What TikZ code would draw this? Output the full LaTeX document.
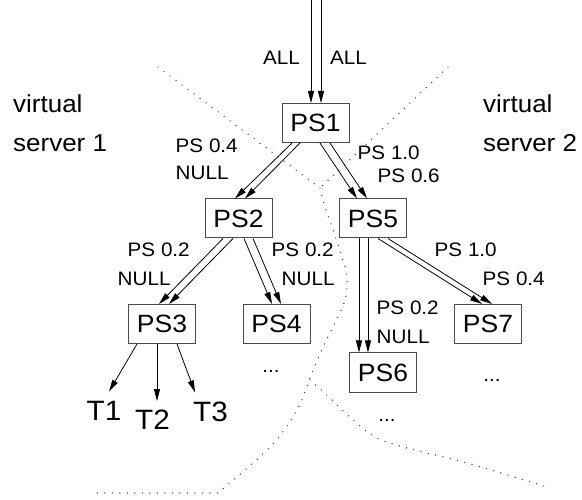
\documentclass[tikz,border=0pt]{standalone}
\usepackage{fontspec}
\setmainfont{Liberation Sans}[FakeStretch=1.06]
\usetikzlibrary{arrows.meta}
\begin{document}
\begin{tikzpicture}[x=1pt,y=-1pt,
  psbox/.style={draw=black!70, line width=1pt, minimum width=67pt, minimum height=39pt,
    inner sep=0pt, font=\fontsize{25}{30}\selectfont},
  lbl/.style={anchor=base west, inner sep=0pt, font=\fontsize{19.5}{23}\selectfont},
  dots/.style={anchor=base, inner sep=0pt, font=\fontsize{19.5}{23}\selectfont},
  vsname/.style={anchor=base west, inner sep=0pt, align=left,
    font=\fontsize{24.5}{39}\selectfont},
  task/.style={inner sep=0pt, font=\fontsize{28}{32}\selectfont},
  flow/.style={line width=0.8pt, -{Triangle[length=12pt,width=6pt]}},
  border/.style={line width=1.4pt, black!80, line cap=round, dash pattern=on 0pt off 7.5pt}]

\useasboundingbox (0,0) rectangle (582,500);

% server boundaries
\draw[border] (158,67) -- (320,188);
\draw[border] (448,67) -- (320,188);
\draw[border] plot[smooth, tension=0.6] coordinates {(320,188) (325,207) (333,230) (342,257)
  (347,277) (345,300) (335,323) (323,347) (310,378) (297,410) (270,447) (218,493)} -- (95,493);
\draw[border] plot[smooth, tension=0.6] coordinates {(310,380) (330,398) (353,420) (377,438)
  (407,448) (467,463) (547,487)};

% virtual server names (anchored on the baseline of the last line)
\node[vsname] (vs1) at (13,152) {virtual\\server 1};
\node[vsname] (vs2) at (483,152) {virtual\\server 2};

% proxy servers
\node[psbox] (ps1) at (315.5,123) {PS1};
\node[psbox] (ps2) at (238.5,218.5) {PS2};
\node[psbox] (ps5) at (373,218.5) {PS5};
\node[psbox] (ps3) at (162,324) {PS3};
\node[psbox] (ps4) at (276.5,324) {PS4};
\node[psbox] (ps7) at (488,324) {PS7};
\node[psbox] (ps6) at (383,372.5) {PS6};

% tasks
\node[task] (t1) at (104,410.5) {T1};
\node[task] (t2) at (152.5,420) {T2};
\node[task] (t3) at (210.5,411.5) {T3};

% incoming streams
\coordinate (in1) at (311,-2);
\coordinate (in2) at (321,-2);
\draw[flow] (in1) -- (in1 |- ps1.north);
\draw[flow] (in2) -- (in2 |- ps1.north);
\node[lbl] (la1) at (263,65) {ALL};
\node[lbl] (la2) at (330,65) {ALL};

% PS1 -> PS2, PS5
\draw[flow] ([xshift=-23.5pt]ps1.south) -- ([xshift=-3.5pt]ps2.north);
\draw[flow] ([xshift=-15.5pt]ps1.south) -- ([xshift=6.5pt]ps2.north);
\draw[flow] ([xshift=4.5pt]ps1.south) -- ([xshift=-16pt]ps5.north);
\draw[flow] ([xshift=14.5pt]ps1.south) -- ([xshift=-6pt]ps5.north);
\node[lbl] (l12a) at (175.5,153) {PS 0.4};
\node[lbl] (l12b) at (175.5,180) {NULL};
\node[lbl] (l15a) at (357.5,160) {PS 1.0};
\node[lbl] (l15b) at (377.5,183) {PS 0.6};

% PS2 -> PS3, PS4
\draw[flow] ([xshift=-15.5pt]ps2.south) -- ([xshift=-3pt]ps3.north);
\draw[flow] ([xshift=-5.5pt]ps2.south) -- ([xshift=7pt]ps3.north);
\draw[flow] ([xshift=5.5pt]ps2.south) -- ([xshift=-4.5pt]ps4.north);
\draw[flow] ([xshift=14.5pt]ps2.south) -- ([xshift=4.5pt]ps4.north);
\node[lbl] (l23a) at (127.5,257) {PS 0.2};
\node[lbl] (l23b) at (117.5,286) {NULL};
\node[lbl] (l24a) at (271.5,257) {PS 0.2};
\node[lbl] (l24b) at (281.5,286) {NULL};

% PS5 -> PS6, PS7
\draw[flow] ([xshift=-14pt]ps5.south) -- ([xshift=-24pt]ps6.north);
\draw[flow] ([xshift=-5pt]ps5.south) -- ([xshift=-15pt]ps6.north);
\draw[flow] ([xshift=5pt]ps5.south) -- ([xshift=-6pt]ps7.north);
\draw[flow] ([xshift=15pt]ps5.south) -- ([xshift=4pt]ps7.north);
\node[lbl] (l57a) at (434.5,257) {PS 1.0};
\node[lbl] (l57b) at (482.5,286) {PS 0.4};
\node[lbl] (l56a) at (376.5,315) {PS 0.2};
\node[lbl] (l56b) at (376.5,344) {NULL};

% PS3 -> tasks
\draw[flow] ([xshift=-25pt]ps3.south) -- ([xshift=5pt,yshift=9pt]t1.north);
\draw[flow] ([xshift=-5pt]ps3.south) -- ([xshift=4.5pt,yshift=9pt]t2.north);
\draw[flow] ([xshift=15pt]ps3.south) -- ([xshift=-15.5pt,yshift=9pt]t3.north);

% further subtrees
\node[dots] (d4) at (271,373) {...};
\node[dots] (d7) at (492,381.5) {...};
\node[dots] (d6) at (387,421) {...};
\end{tikzpicture}
\end{document}
